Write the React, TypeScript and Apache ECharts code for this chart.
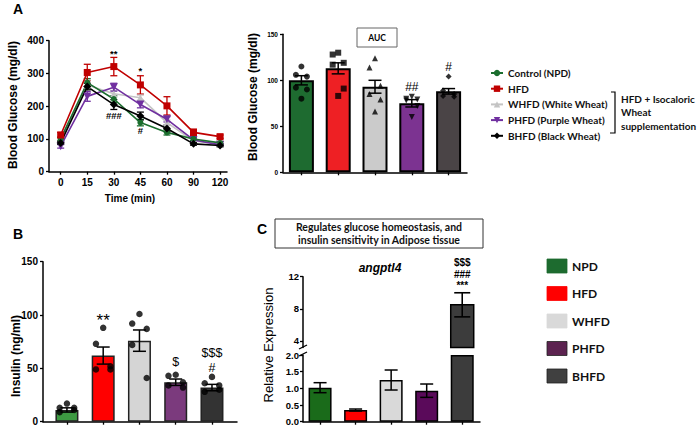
import React, { useEffect, useRef } from "react";
import * as echarts from "echarts";

// ---------- DATA ----------
const groups = ["NPD", "HFD", "WHFD", "PHFD", "BHFD"];
const lineNames = ["Control (NPD)", "HFD", "WHFD (White Wheat)", "PHFD (Purple Wheat)", "BHFD (Black Wheat)"];
const times = ["0", "15", "30", "45", "60", "90", "120"];

const glucoseNPD = [100, 272, 222, 150, 120, 100, 88];
const glucoseHFD = [112, 303, 321, 265, 201, 120, 107];
const glucoseWHFD = [95, 265, 238, 226, 150, 94, 85];
const glucosePHFD = [78, 230, 258, 205, 160, 97, 82];
const glucoseBHFD = [88, 260, 205, 170, 132, 85, 80];
const glucoseErrNPD = [6, 12, 10, 10, 8, 5, 4];
const glucoseErrHFD = [8, 25, 28, 28, 28, 10, 5];
const glucoseErrWHFD = [5, 12, 10, 8, 8, 5, 4];
const glucoseErrPHFD = [6, 15, 12, 10, 8, 5, 4];
const glucoseErrBHFD = [5, 10, 15, 12, 10, 4, 4];

const aucMean = [100, 113, 93, 75, 88];
const aucErr = [5, 6, 7, 4, 3];
const aucNPD = [115, 106, 104, 92, 90, 80];
const aucHFD = [130, 128, 119, 117, 91, 83];
const aucWHFD = [124, 114, 94, 85, 79, 66];
const aucPHFD = [82, 80, 79, 78, 72, 60];
const aucBHFD = [104, 89, 85, 83, 82];

const insulinMean = [11, 62, 76, 37, 32];
const insulinErr = [2, 8, 10, 3, 3];
const insulinNPD = [17, 13, 11, 9, 13];
const insulinHFD = [88, 73, 52, 49, 49];
const insulinWHFD = [101, 92, 87, 72, 41];
const insulinPHFD = [44, 43, 37, 34, 32];
const insulinBHFD = [42, 36, 30, 28, 34];

const angptl4Mean = [1.02, 0.35, 1.25, 0.93, 8.5];
const angptl4Err = [0.15, 0.03, 0.3, 0.2, 1.5];

const angUpperTicks = [4, 8, 12];

const annotGlucose = [
  { x: 2, y: 362, t: "**" },
  { x: 3, y: 310, t: "*" },
  { x: 2, y: 172, t: "###" },
  { x: 3, y: 127, t: "#" },
];
const annotAUC = [
  { x: 3, y: 93, t: "##" },
  { x: 4, y: 114, t: "#" },
];
const annotInsulinStars = [{ x: 1, y: 95, t: "**" }];
const annotInsulin = [
  { x: 3, y: 56, t: "$" },
  { x: 4, y: 64.5, t: "$$$" },
  { x: 4, y: 50.5, t: "#" },
];
const annotAng = [
  { x: 4, y: 13.75, t: "$$$" },
  { x: 4, y: 12.25, t: "###" },
  { x: 4, y: 10.85, t: "***" },
];

// ---------- STYLE ----------
const lineColors = ["#1b6e2e", "#c00000", "#c4c4c4", "#7030a0", "#000000"];
const lineSymbols = ["circle", "rect", "triangle", "triangle", "diamond"];
const lineSymbolRot = [0, 0, 0, 180, 0];
const lineSymbolSize = [6, 7, 7, 8, 8];
const aucColors = ["#1e6b30", "#ee2024", "#cbcbcb", "#7c3391", "#4a4446"];
const insColors = ["#3d9a42", "#ff0000", "#d5d5d5", "#7b3a7d", "#333333"];
const angColors = ["#1a6b1a", "#ff0000", "#d9d9d9", "#5a0a5a", "#3c3c3c"];
const legColors = ["#1d6b2f", "#ff0000", "#d9d9d9", "#5c2350", "#404040"];
const dotSymbols = ["circle", "rect", "triangle", "triangle", "diamond"];
const JITTER_AUC = [0, -0.15, 0.15, -0.15, 0.15, 0];
const JITTER_B = [0, -0.2, 0.2, -0.2, 0.2];
const NUM_FONT = "Liberation Sans";
const TXT_FONT = "Lato";

function errorBars(xi: number, yi: number, data: number[][], color: string, capHalf: number, lw: number, z = 5) {
  return {
    type: "custom",
    xAxisIndex: xi,
    yAxisIndex: yi,
    z,
    silent: true,
    clip: false,
    data,
    renderItem: (_p: any, api: any) => {
      const x = api.value(0), m = api.value(1), e = api.value(2);
      const t = api.coord([x, m + e]);
      const b = api.coord([x, m - e]);
      const st = { stroke: color, lineWidth: lw };
      return {
        type: "group",
        children: [
          { type: "line", shape: { x1: t[0], y1: t[1], x2: b[0], y2: b[1] }, style: st },
          { type: "line", shape: { x1: t[0] - capHalf, y1: t[1], x2: t[0] + capHalf, y2: t[1] }, style: st },
          { type: "line", shape: { x1: b[0] - capHalf, y1: b[1], x2: b[0] + capHalf, y2: b[1] }, style: st },
        ],
      };
    },
  };
}

function annot(xi: number, yi: number, items: { x: number; y: number; t: string }[], fontSize: number, weight = "bold") {
  return {
    type: "custom",
    xAxisIndex: xi,
    yAxisIndex: yi,
    clip: false,
    silent: true,
    z: 30,
    data: items.map((a, k) => [a.x, a.y, k]),
    renderItem: (_p: any, api: any) => {
      const p = api.coord([api.value(0), api.value(1)]);
      return {
        type: "text",
        x: p[0],
        y: p[1],
        style: {
          text: items[api.value(2)].t,
          fill: "#000",
          font: `${weight} ${fontSize}px ${NUM_FONT}`,
          align: "center",
          verticalAlign: "middle",
        },
      };
    },
  };
}

function dots(xi: number, yi: number, idx: number, vals: number[], jitter: number[], size: number, sym: string, rot: number) {
  return {
    type: "scatter",
    xAxisIndex: xi,
    yAxisIndex: yi,
    silent: true,
    z: 10,
    symbol: sym,
    symbolRotate: rot,
    symbolSize: size,
    itemStyle: { color: "#000" },
    data: vals.map((v, j) => [idx + jitter[j % jitter.length], v]),
  };
}

const axLine = { show: true, onZero: false, lineStyle: { color: "#000", width: 1.5 } };
const tick = { show: true, length: 3, lineStyle: { color: "#000", width: 1.3 } };

function buildOption(): any {
  const glucose = [glucoseNPD, glucoseHFD, glucoseWHFD, glucosePHFD, glucoseBHFD];
  const glucoseErr = [glucoseErrNPD, glucoseErrHFD, glucoseErrWHFD, glucoseErrPHFD, glucoseErrBHFD];
  const aucDots = [aucNPD, aucHFD, aucWHFD, aucPHFD, aucBHFD];
  const insDots = [insulinNPD, insulinHFD, insulinWHFD, insulinPHFD, insulinBHFD];
  const idx5 = [0, 1, 2, 3, 4];
  const lowMax = 2;
  const upMin = 3.2;
  const angBarW = 23;

  const series: any[] = [];

  // Panel A line chart
  [0, 1, 2, 3, 4].forEach((g) => {
    series.push(errorBars(0, 0, glucose[g].map((v, i) => [i, v, glucoseErr[g][i]]), lineColors[g], 3.5, 1.3, 3));
  });
  [2, 3, 0, 4, 1].forEach((g) => {
    series.push({
      type: "line",
      name: lineNames[g],
      xAxisIndex: 0,
      yAxisIndex: 0,
      data: glucose[g].map((v, i) => [i, v]),
      symbol: lineSymbols[g],
      symbolRotate: lineSymbolRot[g],
      symbolSize: lineSymbolSize[g],
      showAllSymbol: true,
      lineStyle: { color: lineColors[g], width: 1.6 },
      itemStyle: { color: lineColors[g] },
      z: 4,
    });
  });
  series.push(annot(0, 0, annotGlucose, 9.5));

  // AUC bars
  series.push({
    type: "bar",
    xAxisIndex: 1,
    yAxisIndex: 1,
    barWidth: 25,
    data: aucMean.map((v, i) => ({ value: [i, v], itemStyle: { color: aucColors[i] } })),
    itemStyle: { borderColor: "#000", borderWidth: 2 },
    z: 2,
  });
  series.push(errorBars(1, 1, aucMean.map((v, i) => [i, v, aucErr[i]]), "#000", 6.5, 1.5));
  idx5.forEach((g) => series.push(dots(1, 1, g, aucDots[g], JITTER_AUC, 6, dotSymbols[g], g === 3 ? 180 : 0)));
  series.push(annot(1, 1, annotAUC, 12, "normal"));

  // B insulin
  series.push({
    type: "bar",
    xAxisIndex: 2,
    yAxisIndex: 2,
    barWidth: 23,
    data: insulinMean.map((v, i) => ({ value: [i, v], itemStyle: { color: insColors[i] } })),
    itemStyle: { borderColor: "#222", borderWidth: 1.5 },
    z: 2,
  });
  series.push(errorBars(2, 2, insulinMean.map((v, i) => [i, v, insulinErr[i]]), "#000", 6.5, 1.5));
  idx5.forEach((g) => series.push(dots(2, 2, g, insDots[g], JITTER_B, 6.5, "circle", 0)));
  series.push(annot(2, 2, annotInsulinStars, 17, "normal"));
  series.push(annot(2, 2, annotInsulin, 12.5, "normal"));

  // C angptl4 lower
  series.push({
    type: "bar",
    xAxisIndex: 3,
    yAxisIndex: 3,
    barWidth: angBarW,
    data: angptl4Mean.map((v, i) => ({ value: [i, Math.min(v, lowMax)], itemStyle: { color: angColors[i] } })),
    itemStyle: { borderColor: "#000", borderWidth: 1.5 },
    z: 2,
  });
  series.push(
    errorBars(3, 3, angptl4Mean.map((v, i) => [i, v, angptl4Err[i]]).filter((d) => d[1] + d[2] <= lowMax), "#000", 6.5, 1.5)
  );
  // C upper (broken axis)
  series.push({
    type: "custom",
    xAxisIndex: 4,
    yAxisIndex: 4,
    silent: true,
    z: 2,
    data: angptl4Mean.map((v, i) => [i, v]).filter((d) => d[1] > lowMax),
    renderItem: (_p: any, api: any) => {
      const i = api.value(0), v = api.value(1);
      const t = api.coord([i, v]);
      const b = api.coord([i, upMin]);
      return {
        type: "rect",
        shape: { x: t[0] - angBarW / 2, y: t[1], width: angBarW, height: b[1] - t[1] },
        style: { fill: angColors[i], stroke: "#000", lineWidth: 1.5 },
      };
    },
  });
  series.push(
    errorBars(4, 4, angptl4Mean.map((v, i) => [i, v, angptl4Err[i]]).filter((d) => d[1] > lowMax), "#000", 8, 1.6)
  );
  series.push(annot(4, 4, annotAng, 10));

  const numLabel = (size: number, margin: number) => ({
    color: "#000",
    fontWeight: "bold",
    fontSize: size,
    fontFamily: NUM_FONT,
    margin,
  });

  const bottomLegend: any[] = [];
  groups.forEach((g, i) => {
    const cy = 266 + i * 27.5;
    bottomLegend.push({
      type: "rect",
      shape: { x: 547, y: cy - 7, width: 20, height: 14 },
      style: { fill: legColors[i], stroke: i >= 3 ? "#222" : legColors[i], lineWidth: 0.8 },
    });
    bottomLegend.push({
      type: "text",
      x: 572,
      y: cy,
      style: { text: g, font: `bold 12px ${TXT_FONT}`, fill: "#111", verticalAlign: "middle" },
    });
  });

  return {
    animation: false,
    backgroundColor: "#fff",
    legend: {
      orient: "vertical",
      left: 490,
      top: 68,
      padding: 0,
      itemWidth: 12,
      itemHeight: 8,
      itemGap: 5.7,
      data: lineNames,
      textStyle: { fontFamily: TXT_FONT, fontWeight: "bold", fontSize: 10, color: "#111", padding: [0, 0, 0, 0] },
    },
    grid: [
      { left: 49, top: 40.7, width: 178, height: 131 },
      { left: 283, top: 34.3, width: 184, height: 138 },
      { left: 43, top: 261.7, width: 194, height: 160 },
      { left: 303, top: 355, width: 177, height: 66.7 },
      { left: 303, top: 276.7, width: 177, height: 70.7 },
    ],
    xAxis: [
      {
        gridIndex: 0, type: "value", min: -0.44, max: 6.26,
        axisLine: axLine, splitLine: { show: false },
        axisTick: { ...tick, customValues: [0, 1, 2, 3, 4, 5, 6] },
        axisLabel: { ...numLabel(10, 6), customValues: [0, 1, 2, 3, 4, 5, 6], formatter: (v: number) => times[Math.round(v)] },
      },
      {
        gridIndex: 1, type: "value", min: -0.5, max: 4.5,
        axisLine: axLine, splitLine: { show: false },
        axisTick: { ...tick, customValues: idx5 }, axisLabel: { show: false },
      },
      {
        gridIndex: 2, type: "value", min: -0.66, max: 4.69,
        axisLine: axLine, splitLine: { show: false },
        axisTick: { ...tick, customValues: idx5 }, axisLabel: { show: false },
      },
      {
        gridIndex: 3, type: "value", min: -0.48, max: 4.5,
        axisLine: axLine, splitLine: { show: false },
        axisTick: { ...tick, customValues: idx5 }, axisLabel: { show: false },
      },
      { gridIndex: 4, type: "value", min: -0.48, max: 4.5, show: false },
    ],
    yAxis: [
      {
        gridIndex: 0, type: "value", min: 0, max: 400, interval: 100,
        axisLine: axLine, axisTick: tick, splitLine: { show: false },
        axisLabel: numLabel(10, 5),
      },
      {
        gridIndex: 1, type: "value", min: 0, max: 150, interval: 50,
        axisLine: axLine, axisTick: tick, splitLine: { show: false },
        axisLabel: numLabel(6.5, 5),
      },
      {
        gridIndex: 2, type: "value", min: 0, max: 150, interval: 50,
        axisLine: axLine, axisTick: tick, splitLine: { show: false },
        axisLabel: numLabel(10, 5),
      },
      {
        gridIndex: 3, type: "value", min: 0, max: 2, interval: 0.5,
        axisLine: axLine, axisTick: tick, splitLine: { show: false },
        axisLabel: { ...numLabel(9.5, 4), formatter: (v: number) => v.toFixed(1) },
      },
      {
        gridIndex: 4, type: "value", min: upMin, max: 12,
        axisLine: axLine, splitLine: { show: false },
        axisTick: { ...tick, customValues: angUpperTicks },
        axisLabel: { ...numLabel(9.5, 4), customValues: angUpperTicks },
      },
    ],
    graphic: [
      { type: "text", x: 13, y: 2, style: { text: "A", font: `bold 14px ${NUM_FONT}`, fill: "#000" } },
      { type: "text", x: 13, y: 227, style: { text: "B", font: `bold 14px ${NUM_FONT}`, fill: "#000" } },
      { type: "text", x: 257, y: 222, style: { text: "C", font: `bold 14px ${NUM_FONT}`, fill: "#000" } },
      {
        type: "text", x: 13, y: 105, rotation: Math.PI / 2,
        style: { text: "Blood Glucose (mg/dl)", font: `bold 12px ${NUM_FONT}`, fill: "#000", align: "center", verticalAlign: "middle" },
      },
      {
        type: "text", x: 130, y: 198,
        style: { text: "Time (min)", font: `bold 10px ${NUM_FONT}`, fill: "#000", align: "center", verticalAlign: "middle" },
      },
      {
        type: "text", x: 253, y: 97, rotation: Math.PI / 2,
        style: { text: "Blood Glucose (mg/dl)", font: `bold 12px ${NUM_FONT}`, fill: "#000", align: "center", verticalAlign: "middle" },
      },
      { type: "rect", shape: { x: 357, y: 28, width: 40, height: 19 }, style: { fill: "#fff", stroke: "#666", lineWidth: 1 } },
      {
        type: "text", x: 377, y: 37.5,
        style: { text: "AUC", font: `bold 8.5px ${TXT_FONT}`, fill: "#000", align: "center", verticalAlign: "middle" },
      },
      {
        type: "polyline",
        shape: { points: [[611, 92], [615, 92], [615, 133], [610, 133]] },
        style: { stroke: "#000", lineWidth: 1.2, fill: "none" },
      },
      { type: "text", x: 621, y: 99, style: { text: "HFD + Isocaloric", font: `bold 10px ${TXT_FONT}`, fill: "#111", verticalAlign: "middle" } },
      { type: "text", x: 621, y: 112, style: { text: "Wheat", font: `bold 10px ${TXT_FONT}`, fill: "#111", verticalAlign: "middle" } },
      { type: "text", x: 621, y: 126, style: { text: "supplementation", font: `bold 10px ${TXT_FONT}`, fill: "#111", verticalAlign: "middle" } },
      {
        type: "text", x: 16, y: 356, rotation: Math.PI / 2,
        style: { text: "Insulin (ng/ml)", font: `bold 12px ${NUM_FONT}`, fill: "#000", align: "center", verticalAlign: "middle" },
      },
      { type: "rect", shape: { x: 275, y: 219, width: 208, height: 29 }, style: { fill: "#fff", stroke: "#333", lineWidth: 1 } },
      {
        type: "text", x: 379, y: 227,
        style: { text: "Regulates glucose homeostasis, and", font: `bold 10.5px ${TXT_FONT}`, fill: "#111", align: "center", verticalAlign: "middle" },
      },
      {
        type: "text", x: 379, y: 240,
        style: { text: "insulin sensitivity in Adipose tissue", font: `bold 10.5px ${TXT_FONT}`, fill: "#111", align: "center", verticalAlign: "middle" },
      },
      {
        type: "text", x: 380, y: 268,
        style: { text: "angptl4", font: `italic bold 12px ${NUM_FONT}`, fill: "#000", align: "center", verticalAlign: "middle" },
      },
      {
        type: "text", x: 268, y: 345, rotation: Math.PI / 2,
        style: { text: "Relative Expression", font: `13px ${NUM_FONT}`, fill: "#000", align: "center", verticalAlign: "middle" },
      },
      { type: "line", shape: { x1: 299, y1: 349, x2: 307, y2: 345 }, style: { stroke: "#000", lineWidth: 1.3 } },
      { type: "line", shape: { x1: 299, y1: 356, x2: 307, y2: 352 }, style: { stroke: "#000", lineWidth: 1.3 } },
      ...bottomLegend,
    ],
    series,
  };
}

export default function App() {
  const ref = useRef<HTMLDivElement>(null);
  useEffect(() => {
    if (!ref.current) return;
    const chart = echarts.init(ref.current, null, { renderer: "svg" });
    chart.setOption(buildOption());
    return () => chart.dispose();
  }, []);
  return <div ref={ref} style={{ position: "fixed", left: 0, top: 0, width: 700, height: 428 }} />;
}
